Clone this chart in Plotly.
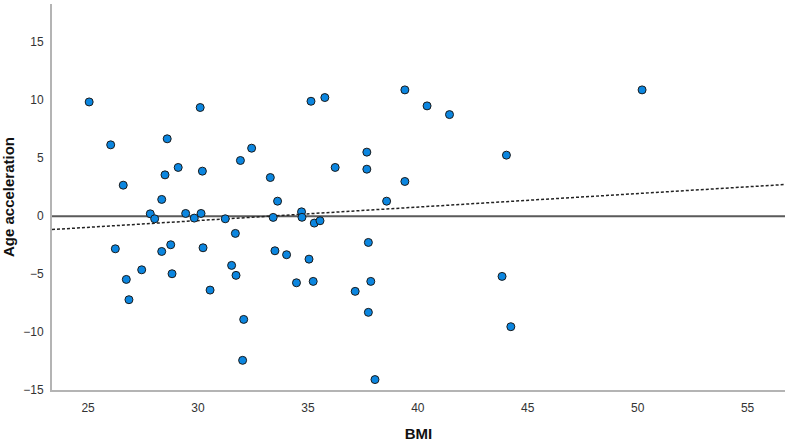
import numpy as np
import plotly.graph_objects as go

bmi = [25.05, 26.03, 26.6, 28.6, 30.1, 29.1, 28.5, 30.2, 28.35, 27.83,
       28.03, 29.44, 29.83, 30.14, 31.24, 31.7, 31.93, 32.44, 33.29, 33.62,
       33.42, 26.24, 26.74, 26.86, 27.44, 28.35, 28.76, 28.82, 30.23, 30.55,
       31.53, 31.73, 32.08, 32.03, 33.5, 34.03, 34.48, 35.14, 35.77, 39.41,
       40.42, 41.44, 44.03, 37.68, 37.68, 36.24, 39.41, 38.58, 34.71, 34.73,
       35.29, 35.55, 35.05, 35.24, 37.75, 37.86, 37.15, 37.75, 38.05, 43.83,
       44.23, 50.2]
age_accel = [9.85, 6.15, 2.67, 6.67, 9.37, 4.2, 3.56, 3.88, 1.44, 0.2,
             -0.23, 0.23, -0.17, 0.23, -0.23, -1.49, 4.8, 5.86, 3.33, 1.29,
             -0.11, -2.82, -5.46, -7.21, -4.63, -3.05, -2.47, -4.97, -2.73, -6.38,
             -4.25, -5.11, -8.91, -12.44, -2.99, -3.33, -5.75, 9.91, 10.23, 10.89,
             9.51, 8.76, 5.26, 5.52, 4.05, 4.2, 2.99, 1.29, 0.37, -0.1,
             -0.6, -0.4, -3.71, -5.63, -2.27, -5.63, -6.49, -8.3, -14.1, -5.2,
             -9.54, 10.89]

x_ticks = [25, 30, 35, 40, 45, 50, 55]
y_ticks = [-15, -10, -5, 0, 5, 10, 15]
x_range = [23.36, 56.7]
y_range = [-15, 18.3]

slope, intercept = np.polyfit(bmi, age_accel, 1)
fit_x = np.array(x_range)
fit_y = slope * fit_x + intercept

fig = go.Figure()
fig.add_hline(y=0, line=dict(color="#5a5a5a", width=2), layer="below")
fig.add_trace(go.Scatter(x=fit_x, y=fit_y, mode="lines",
                         line=dict(color="#222222", width=1.5, dash="3px,2px"),
                         hoverinfo="skip"))
fig.add_trace(go.Scatter(x=bmi, y=age_accel, mode="markers",
                         marker=dict(size=8, color="#0b86e0",
                                     line=dict(color="#1a1a1a", width=1))))

axis_common = dict(showgrid=False, zeroline=False, showline=True,
                   linecolor="#b4b4b4", linewidth=2,
                   tickfont=dict(family="Liberation Sans, Arial", size=12, color="#333333"),
                   ticks="")
fig.update_xaxes(range=x_range, tickvals=x_ticks, ticklabelstandoff=6,
                 title=dict(text="<b>BMI</b>", font=dict(family="Liberation Sans, Arial", size=15, color="#111111"), standoff=14),
                 **axis_common)
fig.update_yaxes(range=y_range, tickvals=y_ticks, ticklabelstandoff=4,
                 title=dict(text="<b>Age acceleration</b>", font=dict(family="Liberation Sans, Arial", size=15, color="#111111"), standoff=6),
                 **axis_common)
fig.update_layout(width=791, height=444, showlegend=False,
                  margin=dict(l=52, r=6, t=4, b=51),
                  plot_bgcolor="white", paper_bgcolor="white")
fig.write_html("out.html")
